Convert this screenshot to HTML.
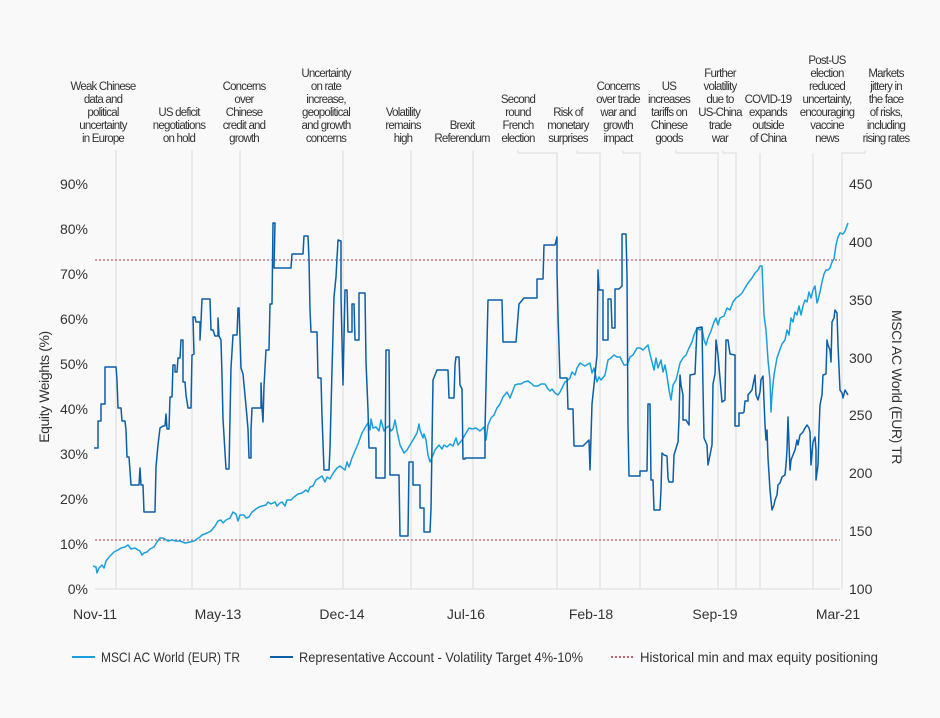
<!DOCTYPE html>
<html><head><meta charset="utf-8"><style>
html,body{margin:0;padding:0;background:#f9f9f9;}
svg{display:block;font-family:"Liberation Sans",sans-serif;}
</style></head><body>
<svg width="940" height="718" viewBox="0 0 940 718" xmlns="http://www.w3.org/2000/svg">
<rect width="940" height="718" fill="#f9f9f9"/>
<g stroke="#dcdcdc" stroke-width="1" fill="none">
<line x1="116" y1="150" x2="116" y2="589"/>
<line x1="192" y1="150" x2="192" y2="589"/>
<line x1="240" y1="150" x2="240" y2="589"/>
<line x1="343" y1="150" x2="343" y2="589"/>
<line x1="411" y1="150" x2="411" y2="589"/>
<line x1="473" y1="150" x2="473" y2="589"/>
<polyline points="518,150 518,153 557,153 557,589"/>
<polyline points="577,150 577,153 600,153 600,589"/>
<polyline points="623,150 623,153 640,153 640,589"/>
<polyline points="676,150 676,153 718,153 718,589"/>
<polyline points="723,150 723,153 736,153 736,589"/>
<line x1="760" y1="153" x2="760" y2="589"/>
<line x1="813" y1="153" x2="813" y2="589"/>
<polyline points="865,150 865,153 842,153 842,589"/>
<line x1="95" y1="589" x2="840" y2="589"/>
</g>
<g stroke="#c0606a" stroke-width="1.2" stroke-dasharray="2,2">
<line x1="95" y1="260" x2="840" y2="260"/>
<line x1="95" y1="540" x2="840" y2="540"/>
</g>
<g font-size="11.5" fill="#333" text-anchor="middle" letter-spacing="-0.8">
<text x="103" y="90">Weak Chinese</text><text x="103" y="103">data and</text><text x="103" y="116">political</text><text x="103" y="129">uncertainty</text><text x="103" y="142">in Europe</text>
<text x="179" y="116">US deficit</text><text x="179" y="129">negotiations</text><text x="179" y="142">on hold</text>
<text x="244" y="90">Concerns</text><text x="244" y="103">over</text><text x="244" y="116">Chinese</text><text x="244" y="129">credit and</text><text x="244" y="142">growth</text>
<text x="326" y="77">Uncertainty</text><text x="326" y="90">on rate</text><text x="326" y="103">increase,</text><text x="326" y="116">geopolitical</text><text x="326" y="129">and growth</text><text x="326" y="142">concerns</text>
<text x="403" y="116">Volatility</text><text x="403" y="129">remains</text><text x="403" y="142">high</text>
<text x="462" y="129">Brexit</text><text x="462" y="142">Referendum</text>
<text x="518" y="103">Second</text><text x="518" y="116">round</text><text x="518" y="129">French</text><text x="518" y="142">election</text>
<text x="568" y="116">Risk of</text><text x="568" y="129">monetary</text><text x="568" y="142">surprises</text>
<text x="618" y="90">Concerns</text><text x="618" y="103">over trade</text><text x="618" y="116">war and</text><text x="618" y="129">growth</text><text x="618" y="142">impact</text>
<text x="669" y="90">US</text><text x="669" y="103">increases</text><text x="669" y="116">tariffs on</text><text x="669" y="129">Chinese</text><text x="669" y="142">goods</text>
<text x="720" y="77">Further</text><text x="720" y="90">volatility</text><text x="720" y="103">due to</text><text x="720" y="116">US-China</text><text x="720" y="129">trade</text><text x="720" y="142">war</text>
<text x="768" y="103">COVID-19</text><text x="768" y="116">expands</text><text x="768" y="129">outside</text><text x="768" y="142">of China</text>
<text x="827" y="64">Post-US</text><text x="827" y="77">election</text><text x="827" y="90">reduced</text><text x="827" y="103">uncertainty,</text><text x="827" y="116">encouraging</text><text x="827" y="129">vaccine</text><text x="827" y="142">news</text>
<text x="886" y="77">Markets</text><text x="886" y="90">jittery in</text><text x="886" y="103">the face</text><text x="886" y="116">of risks,</text><text x="886" y="129">including</text><text x="886" y="142">rising rates</text>
</g>
<g font-size="14" fill="#333" text-anchor="end">
<text x="88" y="189">90%</text><text x="88" y="234">80%</text><text x="88" y="279">70%</text><text x="88" y="324">60%</text><text x="88" y="369">50%</text><text x="88" y="414">40%</text><text x="88" y="459">30%</text><text x="88" y="504">20%</text><text x="88" y="549">10%</text><text x="88" y="594">0%</text>
</g>
<g font-size="14" fill="#333" text-anchor="start">
<text x="849" y="189">450</text><text x="849" y="247">400</text><text x="849" y="305">350</text><text x="849" y="363">300</text><text x="849" y="420">250</text><text x="849" y="478">200</text><text x="849" y="536">150</text><text x="849" y="594">100</text>
</g>
<g font-size="14" fill="#333" text-anchor="middle">
<text x="95" y="619">Nov-11</text><text x="218" y="619">May-13</text><text x="342" y="619">Dec-14</text><text x="466" y="619">Jul-16</text><text x="591" y="619">Feb-18</text><text x="715" y="619">Sep-19</text><text x="838" y="619">Mar-21</text>
</g>
<text transform="translate(49,387) rotate(-90)" font-size="14" fill="#333" text-anchor="middle" letter-spacing="-0.4">Equity Weights (%)</text>
<text transform="translate(892,387) rotate(90)" font-size="14" fill="#333" text-anchor="middle" letter-spacing="-0.4">MSCI AC World (EUR) TR</text>
<polyline fill="none" stroke="#1a9fde" stroke-width="1.5" stroke-linejoin="round" points="93,566 96,567 97,573 99,568 102,565 104,568 106,561 110,556 114,552 118,550 121,548 125,547 128,545 131,549 135,548 138,550 140,551 142,555 144,553 147,552 150,549 154,547 157,542 160,538 163,538 168,541 172,540 176,541 180,541 185,543 190,542 194,541 197,539 200,537 202,535 207,533 211,531 215,526 218,521 221,520 223,523 226,520 230,518 233,512 236,514 238,521 240,515 244,515 246,518 249,517 252,512 256,509 259,507 262,506 266,505 268,502 271,504 275,502 277,506 280,503 282,502 285,506 287,500 291,500 294,497 298,494 302,493 306,490 308,492 310,487 313,486 316,480 319,478 322,476 325,482 327,477 330,479 332,475 334,472 337,468 340,466 345,470 347,462 349,467 352,458 355,451 358,444 362,433 366,426 368,423 370,430 371,419 373,428 376,427 379,431 381,420 384,431 386,428 389,426 391,431 393,429 395,420 397,431 400,445 404,453 407,450 410,445 413,440 417,433 419,424 420,430 423,438 424,434 426,440 428,455 430,462 433,455 435,450 439,445 442,449 444,445 447,447 450,444 453,446 456,438 458,445 462,440 466,433 469,428 472,429 476,428 480,431 484,427 486,440 488,425 491,418 494,415 497,408 500,404 503,397 507,392 510,398 515,385 518,384 521,384 524,382 528,381 532,384 534,386 538,386 541,384 545,384 548,389 550,391 552,389 555,393 558,395 560,392 565,382 568,380 570,378 572,372 575,375 577,368 580,363 585,366 590,363 592,373 594,368 597,382 599,377 601,380 605,375 608,360 611,358 614,355 617,357 620,357 624,365 626,365 628,363 630,357 633,355 637,348 640,348 643,350 646,347 648,345 650,354 652,362 654,370 656,358 658,368 661,360 663,372 665,365 667,376 669,390 671,400 673,385 676,380 678,372 680,363 683,358 686,355 689,348 692,342 694,335 697,328 700,330 702,328 704,340 706,345 708,338 711,331 714,322 716,318 718,325 720,318 724,316 727,308 730,310 733,302 736,298 739,296 742,293 745,288 748,283 752,278 755,273 758,270 760,266 762,266 763,290 764,315 766,330 767,345 768,360 769,370 770,380 771,412 772,395 774,375 777,358 779,352 782,344 785,340 787,330 789,335 791,318 793,322 795,312 797,315 799,306 801,315 803,306 805,300 807,302 809,292 811,298 813,290 815,286 817,303 818,300 820,292 822,282 824,274 826,270 828,270 830,268 832,262 834,259 836,245 838,237 840,233 843,234 845,231 848,223"/>
<polyline fill="none" stroke="#0b5ea8" stroke-width="1.5" stroke-linejoin="round" points="94,448 98,448 98,421 101,421 101,404 105,404 105,367 116,367 117,380 118,408 121,408 122,421 125,421 126,430 127,457 129,457 130,471 131,485 139,485 140,468 141,485 143,485 144,512 155,512 156,467 158,445 160,428 163,426 165,426 166,414 167,429 169,429 170,397 172,397 173,365 175,365 175,372 177,372 178,358 180,358 181,340 183,340 183,382 185,382 186,395 188,408 191,408 192,355 194,354 193,317 195,317 196,322 200,322 200,340 201,322 202,299 210,299 211,330 213,330 215,336 218,336 218,318 219,336 221,340 222,376 223,419 226,469 229,469 230,418 231,368 233,335 237,335 238,308 239,308 241,368 243,374 246,406 248,429 249,458 251,458 251,430 252,408 261,408 261,383 262,408 263,422 264,386 266,350 269,350 270,304 272,304 273,223 275,223 274,268 291,268 292,254 303,254 304,236 308,236 309,259 310,310 311,332 317,332 318,378 321,378 322,416 324,470 329,470 330,448 332,370 334,297 336,277 338,240 341,241 341,297 343,385 345,290 347,290 348,332 352,332 352,304 354,304 355,340 359,340 359,293 365,293 366,362 368,410 369,448 376,448 376,478 385,478 385,476 386,350 389,350 390,475 399,475 400,536 408,536 409,462 413,462 413,485 420,485 420,508 424,508 424,532 430,532 431,509 433,380 437,370 448,370 449,398 454,398 455,365 456,357 459,357 460,385 462,389 463,459 465,459 465,458 485,458 485,430 488,300 502,300 503,342 516,342 519,304 524,298 537,298 537,279 543,279 544,245 555,245 557,237 557,272 558,315 560,378 567,378 568,409 573,409 574,446 583,446 584,445 589,440 590,470 592,404 594,385 597,355 598,270 599,290 603,290 603,340 608,340 608,299 611,299 612,328 615,328 615,289 619,289 622,286 622,234 626,234 627,275 628,425 629,476 640,476 640,471 647,471 648,404 650,404 651,480 653,480 654,510 660,510 661,490 662,453 664,455 667,456 668,478 669,482 673,482 674,455 678,442 679,420 680,375 681,385 683,395 683,420 686,420 689,425 690,375 695,374 697,328 702,327 703,388 704,438 707,445 708,465 712,445 713,384 715,374 716,340 718,355 722,402 725,400 726,340 728,340 730,354 735,355 735,426 739,426 739,413 743,413 744,412 745,401 748,401 748,395 752,390 755,375 756,395 758,400 760,392 761,380 763,376 765,425 766,440 767,430 768,458 770,490 772,510 774,505 775,500 777,495 778,485 780,483 782,477 785,475 786,465 787,450 788,417 790,470 791,460 793,455 795,450 797,440 798,445 800,435 803,432 805,428 807,425 809,428 810,432 811,465 813,442 815,437 816,450 816,480 818,465 819,430 820,405 822,395 823,375 826,374 827,340 828,345 830,350 831,362 832,322 834,318 835,310 837,313 838,345 840,390 842,393 843,398 845,390 848,395"/>
<g font-size="14" fill="#333">
<line x1="72" y1="657" x2="95" y2="657" stroke="#1a9fde" stroke-width="2"/>
<text x="101" y="662" textLength="139" lengthAdjust="spacingAndGlyphs">MSCI AC World (EUR) TR</text>
<line x1="270" y1="657" x2="293" y2="657" stroke="#0b5ea8" stroke-width="2"/>
<text x="299" y="662" textLength="284" lengthAdjust="spacingAndGlyphs">Representative Account - Volatility Target 4%-10%</text>
<line x1="611" y1="657" x2="634" y2="657" stroke="#c0606a" stroke-width="2" stroke-dasharray="2,2"/>
<text x="640" y="662" textLength="238" lengthAdjust="spacingAndGlyphs">Historical min and max equity positioning</text>
</g>
</svg>
</body></html>
